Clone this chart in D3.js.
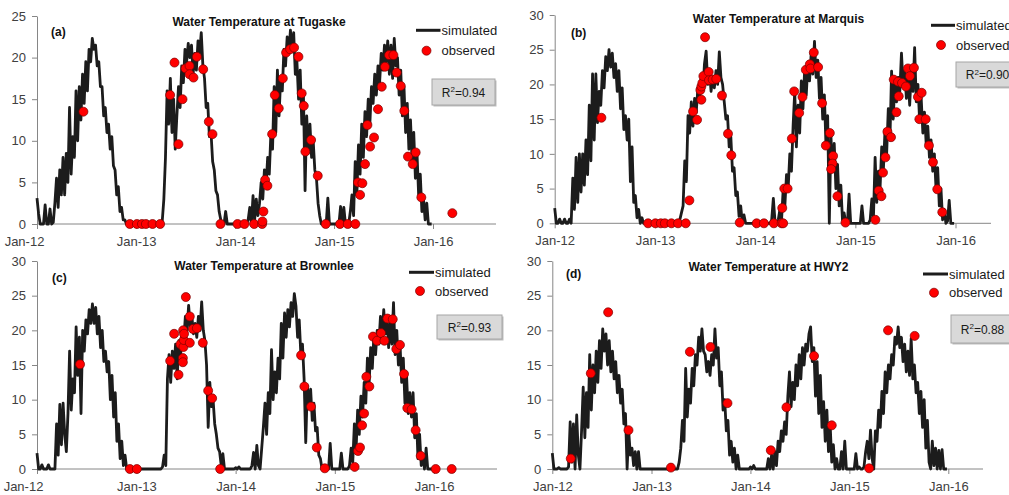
<!DOCTYPE html>
<html lang="en">
<head>
<meta charset="UTF-8">
<title>Water Temperature</title>
<script src="https://d3js.org/d3.v7.min.js"></script>
<style>
body { margin: 0; background: #fff; }
svg { display: block; font-family: "Liberation Sans", Arial, sans-serif; }
.axis path, .axis line { stroke: #868686; }
.axis text { fill: #404040; font-size: 13px; font-family: "Liberation Sans", Arial, sans-serif; }
.title { font-size: 12px; font-weight: bold; fill: #111; }
.tag { font-size: 12px; font-weight: bold; fill: #111; }
.legend text { font-size: 13px; fill: #1a1a1a; }
.r2 { font-size: 12px; fill: #1a1a1a; }
</style>
</head>
<body>
<div id="chart"></div>
<script>
// ---- data ----
// tick labels
var xTicks = ["2012-01-01", "2013-01-01", "2014-01-01", "2015-01-01", "2016-01-01"];
var yTicks25 = [0, 5, 10, 15, 20, 25];
var yTicks30 = [0, 5, 10, 15, 20, 25, 30];

// simulated water temperature, one value every 6 days from Jan 1 of each year (61 per year)
var tugaskeSim = [
  // 2012
  3.1, 1.2, 0, 0, 0, 2.3, 0, 0, 1.8, 0, 0.2,
  2.5, 5.5, 2, 6.5, 3.5, 8, 3.5, 8.5, 5, 14,
  6, 10.5, 8, 16, 10, 16.5, 12.5, 18, 14.5, 19.5,
  16, 21, 19.5, 22.3, 21, 21.5, 19, 19.5, 16.5, 16.5,
  13, 14, 11, 12, 9, 10.5, 7, 6.5, 3.5, 4.5,
  1.5, 2, 0.5, 0.5, 0, 0, 0, 0, 0, 0,
  // 2013
  0, 0, 0, 0, 0, 0, 0, 0, 0, 0, 0, 0, 0, 0, 0, 0,
  0.3, 3, 8, 16, 12, 17.5, 11, 15, 9, 13,
  16.5, 14, 19, 17, 21, 19.5, 21.7, 20, 21.5, 18,
  20.5, 18.5, 22, 20.5, 23, 19, 17.5, 14, 14.5, 10.5,
  11, 7.5, 6.5, 4, 3.5, 1.5, 0.5, 0, 0, 1.5,
  0, 0, 0, 0, 0,
  // 2014
  0, 0, 0, 0, 0, 0, 0, 0, 0.5, 2, 0,
  3.4, 0.5, 3, 1, 2.5, 5, 3, 6.5, 4.5, 8,
  6, 11, 9, 16.5, 11, 18.5, 13, 17.5, 16, 21,
  19, 22.5, 20.5, 23.3, 21, 23, 18, 19.5, 15, 18.5,
  12, 15.5, 4, 13, 8.5, 12, 8, 10, 6.5, 5.5,
  2.5, 1, 0, 0, 0, 0, 3.1, 0, 0, 0,
  // 2015
  0, 0, 0, 0, 2.1, 0, 2, 0, 0.3, 0, 1.5,
  3.5, 1, 7.5, 3.5, 9.5, 6, 12, 8, 13.5, 10.5,
  15, 12, 16.5, 14.5, 18, 15.5, 19, 17, 20.5, 18.5,
  21.5, 19.5, 22, 18, 21.5, 17.5, 22.3, 19, 20, 15.5,
  18.5, 13, 16.5, 11, 14.5, 9, 12.5, 7.5, 11, 5.5,
  8.5, 3.5, 6, 1.5, 3, 0.5, 2.5, 0, 0, 0
];
var marquisSim = [
  // 2012
  2.2, 0, 0, 0.6, 0, 0, 0.6, 0, 0, 0.6, 0,
  6.5, 2, 9.5, 3, 10, 4.5, 10, 5.5, 12, 7,
  17, 9, 21.5, 12, 21.5, 14.5, 19, 17, 22, 19.5,
  24, 22, 25, 22.5, 24.5, 21, 23, 19, 22, 16.5,
  19.5, 13.5, 15.5, 12, 15, 6, 11, 3, 4, 0.8,
  2, 0, 0.8, 0, 0, 0, 0, 0, 0, 0,
  // 2013
  0, 0, 0, 0, 0, 0, 0, 0, 0, 0, 0, 0, 0, 0, 0,
  0.5, 1.5, 2.5, 9, 6,
  15.5, 13, 17.5, 14, 18, 16, 19.5, 17.5, 21, 19,
  23, 24.8, 20, 22, 19, 21, 19.5, 22, 20, 24.7,
  21, 20, 17.5, 15, 15.5, 11, 12.5, 7.5, 8, 4,
  4.5, 1, 2.5, 0, 1.2, 0, 0, 0, 0, 0, 0,
  // 2014
  0, 0, 0, 0, 0, 0, 0, 0, 0, 0, 0.5,
  3.6, 0.3, 0, 0.5, 2, 0.5, 5, 2.5, 7, 5,
  10, 7.5, 14, 19, 11, 17, 13, 20.5, 16.5, 22,
  18.5, 23, 20.5, 24.5, 21.5, 26.2, 21, 23.5, 18, 21,
  15, 18.5, 11, 15.5, 0, 12.5, 7.5, 11.5, 5, 8.5,
  2.5, 5.5, 0.5, 1.5, 0, 0, 4.2, 0, 0, 0,
  // 2015
  0, 0, 0, 0, 2.5, 0, 0, 0, 0, 0.5, 3.5,
  1, 9.5, 3, 7.5, 5, 11, 7.5, 13.5, 10, 16.5,
  12, 21.9, 15, 20.5, 17.5, 21, 19, 24.5, 20, 22,
  18, 21, 17, 22, 19, 25.3, 17.5, 20, 15, 18,
  13, 16, 11.5, 14, 9.5, 12, 7.5, 10, 5, 8,
  2.5, 5, 0.5, 2, 0, 0.3, 3.3, 0, 0, 0
];
var brownleeSim = [
  // 2012
  2.3, 0, 0, 0.6, 0, 0, 0, 0.6, 0, 0, 0,
  0, 6.5, 2, 9.3, 3.5, 9.5, 5, 2.5, 8, 17,
  8.5, 13, 11, 20.5, 13.5, 19, 8, 20, 17, 21.5,
  19.5, 23, 21, 23.8, 21, 23.3, 19.5, 22, 17.5, 20,
  15.5, 17, 14, 15.5, 10, 13.5, 7.5, 11, 4, 6.5,
  1.5, 4, 0.5, 2, 0, 0, 0, 0, 0, 0,
  // 2013
  0, 0, 0, 0, 0, 0, 0, 0, 0, 0, 0, 0, 0, 0, 0, 0,
  0.3, 2, 0.5, 13,
  16.5, 12.5, 17, 14.5, 18, 13, 18.5, 16, 20, 18.5,
  22, 20, 23.6, 20.5, 22, 19.5, 21, 19, 22, 20,
  24.1, 20, 18.5, 15, 6, 12.5, 9, 10, 6.5, 5,
  3, 2.5, 0.5, 2.2, 0, 0, 0, 0, 0, 0, 0,
  // 2014
  0.2, 0, 0.3, 0, 0, 0, 0, 0, 0, 0, 0.5,
  2.4, 0, 3.4, 0.5, 0, 3, 6, 9.5, 5, 11,
  8, 17.2, 10, 14, 11, 16, 13, 21, 16, 22.5,
  19, 23, 20.5, 24, 22, 25.3, 23.5, 19, 21.5, 16.5,
  18, 13, 3.8, 12, 9, 11.5, 7, 9.5, 5.5, 6,
  2, 1.5, 0, 0, 0, 0, 0, 3.7, 0, 0,
  // 2015
  0, 0, 0, 0, 2.3, 0, 0, 0, 0, 0.5, 3,
  1, 6.5, 2.5, 8.5, 5, 10.5, 7.5, 12.5, 9.5, 16,
  12, 17.5, 14.5, 19.5, 16.5, 20, 18, 22, 19, 23,
  19.5, 22, 17.5, 21, 18, 24, 16.5, 20, 15, 18,
  12.5, 16, 9.5, 13.5, 8, 11, 7.5, 11, 4.5, 8,
  1.5, 5, 0.5, 2, 0, 3, 0, 0, 0, 0
];
var hwy2Sim = [
  // 2012
  2.3, 0, 0, 0, 0.2, 0, 0, 0, 0, 0, 0.3,
  6.8, 1, 6.5, 0, 7.8, 2, 0, 5.5, 11.8, 4.5,
  11, 6, 16.5, 8.5, 15, 11, 17, 12.5, 18.5, 14.5,
  20.2, 17, 19.5, 15, 18.5, 14, 17, 13, 15.5, 11,
  13.5, 9.5, 11.5, 6.5, 8, 0, 5.4, 2, 3, 0.5,
  2.5, 0, 2.5, 0, 0, 0, 0, 0, 0, 0,
  // 2013
  0, 0, 0, 0, 0, 0, 0, 0, 0, 0, 0, 0, 0, 0, 0, 0, 0,
  1, 3, 7,
  4, 14.5, 7.5, 11.5, 9.5, 14.5, 12, 16.5, 15, 19,
  17, 20.2, 17, 16.5, 14, 15.5, 13.5, 16.5, 15, 20.2,
  16, 17.5, 12, 14, 8.5, 10, 5.5, 7, 2, 4,
  1, 3, 0, 2, 0, 0, 0, 0, 0, 0, 0,
  // 2014
  0.3, 0, 0.5, 0, 0, 0, 0, 0, 0, 0, 0,
  1.5, 0, 2, 0, 2.5, 0.5, 4, 2.5, 5.5, 4,
  6.8, 5, 10.5, 14, 9, 12.5, 10, 15, 12, 16.5,
  13, 17.5, 15, 18, 17, 19.5, 20.5, 15.5, 17.5, 10.5,
  15.5, 8, 13.5, 6, 9.7, 4, 8.5, 2.5, 6.5, 1,
  3.5, 0, 1.5, 0, 0, 2.5, 0, 4, 0, 0,
  // 2015
  0, 0, 0, 0, 2.2, 0, 0.3, 0, 0, 0.3, 2.5,
  4, 1.5, 5.6, 1.5, 0, 5.5, 4, 8.5, 6, 11.2,
  8, 14, 11, 15, 13, 16.5, 15, 19, 18, 20.5,
  17.5, 19, 15.5, 18, 14, 17, 13.5, 18.8, 13, 15,
  11, 12.5, 8, 11.2, 6, 10, 3, 7, 1, 0,
  4, 0.5, 3, 0, 2.7, 0, 2.8, 0, 0, 0
];

// observed samples: [decimal year, degC]
var tugaskeObs = [
  [2012.468, 13.5], [2012.936, 0], [2013.007, 0], [2013.058, 0], [2013.098, 0], [2013.165, 0], [2013.242, 0],
  [2013.343, 15.5], [2013.387, 19.4], [2013.427, 9.6], [2013.468, 15.0], [2013.498, 18.7], [2013.539, 19.0],
  [2013.539, 18.0], [2013.579, 17.6], [2013.613, 20.1], [2013.677, 18.6], [2013.734, 12.3], [2013.771, 10.8],
  [2013.852, 0], [2014.024, 0], [2014.094, 0], [2014.192, 0], [2014.273, 0], [2014.276, 0.3], [2014.286, 1.5],
  [2014.303, 5.3], [2014.326, 4.6], [2014.374, 10.8], [2014.401, 15.5], [2014.441, 13.9], [2014.482, 17.5],
  [2014.515, 20.6], [2014.556, 21.0], [2014.596, 21.2], [2014.64, 20.1], [2014.673, 15.7], [2014.694, 14.2],
  [2014.71, 8.7], [2014.768, 10.1], [2014.835, 5.8], [2014.916, 0], [2015.06, 0], [2015.138, 0], [2015.215, 0],
  [2015.242, 5.0], [2015.263, 3.5], [2015.286, 4.9], [2015.313, 7.2], [2015.337, 11.9], [2015.364, 9.3],
  [2015.404, 10.4], [2015.444, 13.8], [2015.482, 16.5], [2015.515, 18.9], [2015.556, 20.3], [2015.6, 20.3],
  [2015.633, 18.2], [2015.674, 16.6], [2015.71, 13.6], [2015.747, 8.1], [2015.795, 7.2], [2015.825, 8.6],
  [2015.882, 3.2], [2016.195, 1.3]
];
var marquisObs = [
  [2012.465, 15.2], [2012.93, 0], [2013.003, 0], [2013.057, 0], [2013.097, 0], [2013.163, 0], [2013.229, 0],
  [2013.306, 0], [2013.342, 3.3], [2013.379, 16.1], [2013.419, 14.9], [2013.452, 19.2], [2013.462, 17.8],
  [2013.462, 19.7], [2013.472, 20.2], [2013.482, 21.2], [2013.499, 26.8], [2013.535, 21.8], [2013.538, 20.6],
  [2013.575, 20.7], [2013.611, 20.8], [2013.668, 18.4], [2013.728, 12.9], [2013.761, 9.8], [2013.845, 0.1],
  [2014.014, 0], [2014.087, 0], [2014.186, 0], [2014.263, 0], [2014.279, 0], [2014.27, 2.2], [2014.29, 5.0],
  [2014.323, 5.0], [2014.366, 12.2], [2014.389, 19.0], [2014.439, 15.9], [2014.472, 18.2], [2014.505, 22.1],
  [2014.545, 22.9], [2014.552, 22.3], [2014.585, 24.6], [2014.628, 22.5], [2014.668, 17.3], [2014.705, 11.2],
  [2014.745, 13.0], [2014.778, 9.7], [2014.772, 8.6], [2014.758, 7.8], [2014.821, 3.9], [2014.901, 0.1],
  [2015.2, 0.5], [2015.233, 4.7], [2015.26, 3.9], [2015.276, 7.3], [2015.3, 9.5], [2015.32, 13.2],
  [2015.356, 12.4], [2015.383, 20.7], [2015.41, 16.0], [2015.433, 18.3], [2015.426, 20.4], [2015.466, 20.2],
  [2015.505, 19.7], [2015.525, 22.3], [2015.545, 21.2], [2015.585, 22.4], [2015.625, 18.2], [2015.639, 15.0],
  [2015.662, 18.8], [2015.702, 15.0], [2015.735, 11.2], [2015.775, 8.8], [2015.818, 4.9], [2015.868, 1.6]
];
var brownleeObs = [
  [2012.433, 15.1], [2012.934, 0], [2013.004, 0], [2013.34, 15.6], [2013.38, 19.5], [2013.424, 13.6],
  [2013.444, 18.0], [2013.468, 16.0], [2013.468, 15.4], [2013.471, 20.0], [2013.474, 17.6], [2013.477, 18.6],
  [2013.48, 19.5], [2013.498, 24.8], [2013.538, 22.0], [2013.538, 18.2], [2013.569, 20.2], [2013.609, 20.3],
  [2013.669, 18.2], [2013.723, 11.3], [2013.763, 10.2], [2013.844, 0], [2014.66, 16.4], [2014.693, 11.9],
  [2014.76, 9.0], [2014.818, 3.1], [2014.899, 0.1], [2015.2, 0.3], [2015.234, 2.6], [2015.254, 3.1],
  [2015.275, 6.3], [2015.295, 8.0], [2015.318, 13.3], [2015.348, 11.9], [2015.385, 19.1], [2015.426, 18.5],
  [2015.466, 19.6], [2015.5, 18.5], [2015.53, 21.7], [2015.584, 21.6], [2015.62, 17.3], [2015.657, 17.9],
  [2015.698, 13.7], [2015.731, 8.8], [2015.775, 8.6], [2015.815, 5.6], [2015.866, 1.9], [2016.017, 0],
  [2016.178, 0]
];
var hwy2Obs = [
  [2012.186, 1.5], [2012.388, 13.8], [2012.563, 22.6], [2012.768, 5.6], [2013.196, 0.2], [2013.388, 16.9],
  [2013.596, 17.6], [2013.768, 9.5], [2014.206, 2.7], [2014.364, 8.9], [2014.643, 16.3], [2014.822, 6.3],
  [2015.2, 0.1], [2015.391, 20.0], [2015.66, 19.2]
];

// ---- layout ----
var panels = [
  { title: "Water Temperature at Tugaske", tag: "(a)", r2: "=0.94", sim: tugaskeSim, obs: tugaskeObs, yTicks: yTicks25,
    x0: 37, x16: 433, xEnd: 496, y0: 224, yTop: 16, titleX: 259, titleY: 26, tagX: 51, tagY: 36,
    legX: 416, legY1: 30.3, legY2: 50.7, textX: 441.5, box: [432, 79, 63, 26], firstShift: -13 },
  { title: "Water Temperature at Marquis", tag: "(b)", r2: "=0.90", sim: marquisSim, obs: marquisObs, yTicks: yTicks30,
    x0: 554.7, x16: 955.5, xEnd: 991, y0: 223.3, yTop: 15, titleX: 778.5, titleY: 22.5, tagX: 571, tagY: 37,
    legX: 931, legY1: 25.3, legY2: 45, textX: 956, box: [956, 62, 63, 25], firstShift: 0 },
  { title: "Water Temperature at Brownlee", tag: "(c)", r2: "=0.93", sim: brownleeSim, obs: brownleeObs, yTicks: yTicks30,
    x0: 37, x16: 434, xEnd: 497, y0: 469, yTop: 261, titleX: 264, titleY: 270, tagX: 52, tagY: 282,
    legX: 409, legY1: 272.3, legY2: 291, textX: 435, box: [437, 315, 65, 24], firstShift: -14 },
  { title: "Water Temperature at HWY2", tag: "(d)", r2: "=0.88", sim: hwy2Sim, obs: hwy2Obs, yTicks: yTicks30,
    x0: 552.3, x16: 948.3, xEnd: 983, y0: 469, yTop: 261, titleX: 768.5, titleY: 271, tagX: 566, tagY: 278,
    legX: 923, legY1: 274, legY2: 292.7, textX: 949, box: [951, 315, 63, 28], firstShift: 0 }
];

var parseDay = d3.timeParse("%Y-%m-%d");
var tickDates = xTicks.map(parseDay);

// value i of a simulated series -> date (61 samples per year, 6 days apart)
function simPoints(values) {
  return values.map(function(v, i) {
    var start = new Date(2012 + Math.floor(i / 61), 0, 1);
    return { date: d3.timeDay.offset(start, 6 * (i % 61)), v: v };
  });
}
function yearToDate(t) {
  var yr = Math.floor(t);
  var a = new Date(yr, 0, 1), b = new Date(yr + 1, 0, 1);
  return new Date(+a + (t - yr) * (b - a));
}

var svg = d3.select("#chart").append("svg")
  .attr("width", 1009)
  .attr("height", 495);

panels.forEach(function(p) {
  var x = d3.scaleTime().domain([tickDates[0], tickDates[4]]).range([p.x0, p.x16]);
  var y = d3.scaleLinear().domain([0, d3.max(p.yTicks)]).range([p.y0, p.yTop]);
  var g = svg.append("g");

  // y axis
  g.append("g")
    .attr("class", "axis")
    .attr("transform", "translate(" + p.x0 + ",0)")
    .call(d3.axisLeft(y).tickValues(p.yTicks).tickSize(5).tickSizeOuter(0).tickPadding(6));

  // x axis (line runs past the last label, as in the original)
  var xa = g.append("g")
    .attr("class", "axis")
    .attr("transform", "translate(0," + p.y0 + ")")
    .call(d3.axisBottom(x).tickValues(tickDates).tickFormat(d3.timeFormat("%b-%y")).tickSize(5).tickSizeOuter(0));
  xa.select(".domain").remove();
  xa.selectAll("text").attr("y", 21.5).attr("dy", 0);
  xa.select(".tick text").attr("dx", p.firstShift);
  g.append("line")
    .attr("x1", p.x0).attr("x2", p.xEnd)
    .attr("y1", p.y0).attr("y2", p.y0)
    .attr("stroke", "#868686");

  // simulated
  var line = d3.line()
    .x(function(d) { return x(d.date); })
    .y(function(d) { return y(d.v); });
  g.append("path")
    .datum(simPoints(p.sim))
    .attr("d", line)
    .attr("fill", "none")
    .attr("stroke", "#1c1c1c")
    .attr("stroke-width", 2.8)
    .attr("stroke-linejoin", "round");

  // observed
  g.selectAll("circle.obs")
    .data(p.obs)
    .enter().append("circle")
    .attr("class", "obs")
    .attr("cx", function(d) { return x(yearToDate(d[0])); })
    .attr("cy", function(d) { return y(d[1]); })
    .attr("r", 4.5)
    .attr("fill", "#ff0000")
    .attr("stroke", "#7a0000")
    .attr("stroke-width", 0.7);

  // title and panel tag
  g.append("text").attr("class", "title")
    .attr("x", p.titleX).attr("y", p.titleY)
    .attr("text-anchor", "middle")
    .text(p.title);
  g.append("text").attr("class", "tag")
    .attr("x", p.tagX).attr("y", p.tagY)
    .text(p.tag);

  // legend
  var lg = g.append("g").attr("class", "legend");
  lg.append("line")
    .attr("x1", p.legX).attr("x2", p.textX - 1)
    .attr("y1", p.legY1).attr("y2", p.legY1)
    .attr("stroke", "#1c1c1c").attr("stroke-width", 3);
  lg.append("text").attr("x", p.textX).attr("y", p.legY1 + 4.7).text("simulated");
  lg.append("circle")
    .attr("cx", p.textX - 15).attr("cy", p.legY2).attr("r", 4.5)
    .attr("fill", "#ff0000").attr("stroke", "#7a0000").attr("stroke-width", 0.7);
  lg.append("text").attr("x", p.textX).attr("y", p.legY2 + 4.7).text("observed");

  // R2 box
  var b = p.box;
  g.append("rect")
    .attr("x", b[0] + 1.5).attr("y", b[1] + 1.5).attr("width", b[2]).attr("height", b[3])
    .attr("fill", "#bdbdbd");
  g.append("rect")
    .attr("x", b[0]).attr("y", b[1]).attr("width", b[2]).attr("height", b[3])
    .attr("fill", "#d9d9d9").attr("stroke", "#a6a6a6");
  var t = g.append("text").attr("class", "r2")
    .attr("x", b[0] + b[2] / 2).attr("y", b[1] + b[3] / 2 + 4.5)
    .attr("text-anchor", "middle");
  t.append("tspan").text("R");
  t.append("tspan").attr("dy", -4.5).attr("font-size", "8px").text("2");
  t.append("tspan").attr("dy", 4.5).text(p.r2);
});
</script>
</body>
</html>
